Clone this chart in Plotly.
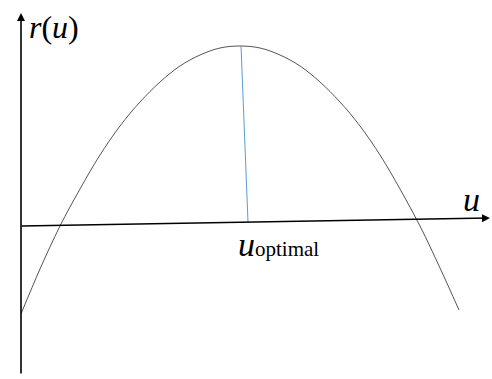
import plotly.graph_objects as go

# picture space: u runs right, r is measured downwards in pixels (axis reversed)
curve_u = [21, 40, 60, 80, 100, 120, 140, 160, 180, 200, 220, 240,
           260, 280, 300, 320, 340, 360, 380, 400, 420, 440, 459]
curve_r = [314, 269, 226, 189, 155, 126, 102, 82, 66, 55, 48, 46,
           48, 55, 66, 82, 102, 126, 155, 189, 226, 268, 310]

optimal_u = [241, 248]
optimal_r = [46, 222]

u_axis = [20, 490]      # horizontal axis start / arrow tip
u_axis_r = [226, 218]
r_axis = [21, 21]       # vertical axis
r_axis_r = [375, 13]

fig = go.Figure()

fig.add_trace(go.Scatter(
    x=curve_u, y=curve_r, mode='lines',
    line=dict(color='#555555', width=1, shape='spline'),
    hoverinfo='skip'
))
fig.add_trace(go.Scatter(
    x=optimal_u, y=optimal_r, mode='lines',
    line=dict(color='#5b9bd5', width=1),
    hoverinfo='skip'
))

########## Axes with arrows ##########
for xs, ys in [(u_axis, u_axis_r), (r_axis, r_axis_r)]:
    fig.add_annotation(
        x=xs[1], y=ys[1], ax=xs[0], ay=ys[0],
        xref='x', yref='y', axref='x', ayref='y',
        text='', showarrow=True,
        arrowhead=2, arrowsize=1, arrowwidth=1.6, arrowcolor='black'
    )

########## Labels ##########
serif = 'Liberation Serif'
fig.add_annotation(x=54, y=27, xref='x', yref='y', text='<i>r</i>(<i>u</i>)',
                   showarrow=False, font=dict(family=serif, size=32, color='black'))
fig.add_annotation(x=471, y=199, xref='x', yref='y', text='<i>u</i>',
                   showarrow=False, font=dict(family=serif, size=34, color='black'))
fig.add_annotation(x=278, y=244, xref='x', yref='y',
                   text='<i>u</i><span style="font-size:21px">optimal</span>',
                   showarrow=False, font=dict(family=serif, size=34, color='black'))

fig.update_layout(
    width=492, height=379,
    margin=dict(l=0, r=0, t=0, b=0),
    plot_bgcolor='white', paper_bgcolor='white',
    showlegend=False,
    font=dict(family=serif),
    xaxis=dict(range=[0, 492], visible=False, fixedrange=True),
    yaxis=dict(range=[379, 0], visible=False, fixedrange=True),
)

fig.write_html("out.html", config={'displayModeBar': False},
               post_script="document.body.style.margin='0';")
